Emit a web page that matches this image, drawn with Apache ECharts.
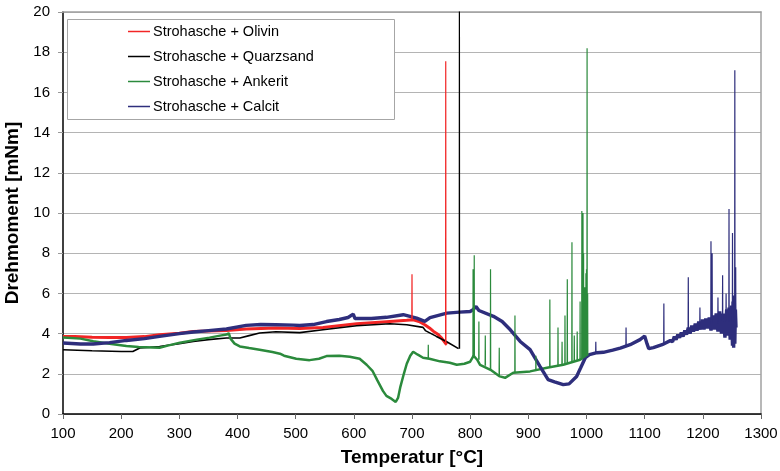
<!DOCTYPE html>
<html>
<head>
<meta charset="utf-8">
<script src="https://cdn.jsdelivr.net/npm/echarts@6/dist/echarts.min.js"></script>
<style>
    html, body { margin: 0; padding: 0; background: #fff; }
    #chart { width: 780px; height: 471px; }
</style>
</head>
<body>
<div id="chart"></div>
<script>
var seriesNames = ['Strohasche + Olivin', 'Strohasche + Quarzsand', 'Strohasche + Ankerit', 'Strohasche + Calcit'];

// Olivin (rot)
var olivinT = [100, 120, 150, 180, 209, 240, 266, 300, 324, 350, 381, 415, 466, 507, 547, 605, 650, 691, 702, 712, 722, 730, 737, 745, 751, 758, 760];
var olivinV = [3.86, 3.85, 3.82, 3.81, 3.81, 3.85, 3.94, 4.02, 4.11, 4.13, 4.16, 4.23, 4.28, 4.25, 4.3, 4.49, 4.58, 4.66, 4.69, 4.6, 4.44, 4.28, 4.11, 3.95, 3.78, 3.5, 3.45];
var olivinSpikes = [[700, 4.66, 6.95], [758, 3.5, 17.55]];

// Quarzsand (schwarz)
var quarzT = [100, 150, 200, 220, 232, 250, 266, 300, 324, 350, 381, 404, 420, 438, 466, 507, 547, 605, 662, 691, 719, 722, 723, 742, 759, 780];
var quarzV = [3.2, 3.15, 3.11, 3.11, 3.28, 3.32, 3.36, 3.5, 3.61, 3.7, 3.78, 3.78, 3.9, 4.03, 4.09, 4.05, 4.19, 4.39, 4.49, 4.44, 4.31, 4.3, 4.15, 3.86, 3.61, 3.25];
var quarzSpikes = [[781.5, 3.25, 22]];

// Ankerit (gruen)
var ankeritT = [100, 130, 152, 180, 209, 230, 266, 280, 301, 330, 352, 370, 381, 385, 388, 395, 404, 420, 438, 460, 473, 480, 501, 524, 540, 553, 575, 593, 610, 622, 632, 640, 650, 656, 665, 672, 676, 680, 686, 691, 697, 702, 710, 719, 730, 748, 765, 777, 790, 800, 806, 812, 817, 835, 851, 860, 874, 903, 932, 960, 989, 999, 1003];
var ankeritV = [3.8, 3.75, 3.62, 3.5, 3.38, 3.33, 3.3, 3.4, 3.55, 3.7, 3.8, 3.9, 3.95, 4.02, 3.75, 3.5, 3.36, 3.28, 3.2, 3.08, 3.0, 2.9, 2.75, 2.68, 2.75, 2.88, 2.9, 2.85, 2.75, 2.45, 2.15, 1.7, 1.15, 0.9, 0.75, 0.6, 0.8, 1.35, 2.0, 2.5, 2.9, 3.1, 2.95, 2.8, 2.75, 2.62, 2.55, 2.45, 2.5, 2.6, 2.9, 2.7, 2.45, 2.2, 1.87, 1.8, 2.05, 2.12, 2.3, 2.45, 2.7, 2.87, 2.9];
var ankeritSpikes = [[728, 2.75, 3.45], [805, 2.8, 7.2], [807, 2.9, 7.9], [815, 2.7, 4.6], [826, 2.4, 3.9], [835, 2.2, 7.2],
    [850, 1.9, 3.3], [877, 2.05, 4.9], [913, 2.15, 2.9], [937, 2.3, 5.7], [951, 2.4, 4.3], [958, 2.45, 3.6], [963, 2.5, 4.9],
    [967, 2.5, 6.7], [975, 2.55, 8.55], [979, 2.6, 3.9], [984, 2.65, 4.1], [989, 2.7, 5.6], [992, 2.75, 10.1], [994, 2.75, 10.0],
    [995, 2.8, 8.0], [997, 2.8, 6.3], [998, 2.85, 5.5], [999, 2.85, 7.0], [1000, 2.9, 7.2], [1001, 2.9, 18.2], [1002, 2.9, 6.0]];

// Calcit (blau)
var calcitT = [100, 130, 152, 180, 209, 240, 266, 300, 324, 350, 381, 415, 440, 466, 496, 507, 530, 553, 575, 590, 599, 602, 605, 630, 656, 685, 708, 722, 731, 760, 782, 800, 805, 810, 815, 840, 855, 869, 886, 903, 920, 934, 945, 960, 970, 983, 990, 998, 1005, 1018, 1029, 1045, 1058, 1075, 1092, 1100, 1104, 1107, 1115, 1130, 1144,
    1148, 1151, 1154, 1157, 1160, 1163, 1166, 1169, 1172, 1175, 1178, 1181, 1184, 1187, 1190, 1193, 1196, 1199, 1202, 1205, 1208, 1211, 1214, 1217, 1220, 1223, 1226, 1229, 1232, 1235, 1238, 1241, 1243, 1245, 1247, 1249, 1251, 1252, 1253, 1254, 1255, 1256, 1257];
var calcitV = [3.53, 3.48, 3.48, 3.55, 3.66, 3.75, 3.86, 4.0, 4.08, 4.15, 4.23, 4.41, 4.45, 4.44, 4.42, 4.4, 4.45, 4.6, 4.7, 4.8, 4.97, 4.75, 4.72, 4.75, 4.81, 4.94, 4.77, 4.61, 4.8, 5.02, 5.07, 5.1, 5.19, 5.35, 5.15, 4.86, 4.6, 4.19, 3.61, 3.2, 2.37, 1.71, 1.6, 1.46, 1.5, 1.87, 2.3, 2.8, 2.95, 3.05, 3.07, 3.18, 3.28, 3.45, 3.7, 3.88, 3.5, 3.25, 3.3, 3.45, 3.65,
    3.6, 3.85, 3.7, 3.95, 3.8, 4.05, 3.85, 4.15, 3.95, 4.3, 4.0, 4.4, 4.1, 4.5, 4.15, 4.6, 4.2, 4.7, 4.2, 4.75, 4.25, 4.8, 4.15, 4.9, 4.2, 5.0, 4.1, 5.1, 4.0, 5.0, 3.8, 5.2, 3.9, 5.3, 3.7, 5.4, 3.4, 5.6, 3.3, 5.9, 3.5, 5.2, 4.3];
var calcitSpikes = [[1016, 3.0, 3.6], [1068, 3.35, 4.3], [1133, 3.45, 5.5], [1175, 4.2, 6.8], [1195, 4.4, 5.3], [1214, 4.5, 8.6],
    [1216, 4.5, 8.0], [1226, 4.5, 5.8], [1234, 4.6, 6.9], [1240, 4.6, 6.0], [1245, 4.6, 10.2], [1251, 4.6, 9.0], [1255, 4.7, 17.1], [1256.5, 4.7, 7.3]];

var colors = ['#f22525', '#000000', '#2b8a3c', '#2e2e7c'];
var lineWidths = [3, 1.6, 2.5, 3.4];

function toPairs(xs, ys) {
    var out = [];
    for (var i = 0; i < xs.length; i++) {
        out.push([xs[i], ys[i]]);
    }
    return out;
}

// jeder Ausreisser: [T, Basis, Spitze] -> schmaler Strich, danach Luecke
function spikePairs(list) {
    var out = [];
    for (var i = 0; i < list.length; i++) {
        out.push([list[i][0] - 0.3, list[i][1]]);
        out.push([list[i][0], list[i][2]]);
        out.push([list[i][0] + 0.3, list[i][1]]);
        out.push([list[i][0] + 0.3, '-']);
    }
    return out;
}

function lineSeries(idx, data, width) {
    return {
        name: seriesNames[idx],
        type: 'line',
        data: data,
        symbol: 'none',
        connectNulls: false,
        clip: true,
        lineStyle: { color: colors[idx], width: width },
        itemStyle: { color: colors[idx] },
        emphasis: { disabled: true }
    };
}

var chart = echarts.init(document.getElementById('chart'));
var textFont = '"Liberation Sans", Arial, sans-serif';
var borderLine = { show: true, onZero: false, lineStyle: { color: '#a0a0a0', width: 1.5 } };

var option = {
    animation: false,
    backgroundColor: '#fff',
    textStyle: { fontFamily: textFont },
    grid: {
        left: 63, right: 19, top: 12, bottom: 57,
        outerBoundsMode: 'none',
        containLabel: false
    },
    graphic: [{
        type: 'rect',
        z: 3,
        shape: { x: 67.5, y: 19.5, width: 327, height: 100 },
        style: { fill: '#fff', stroke: '#a6a6a6', lineWidth: 1 }
    }],
    legend: {
        data: seriesNames,
        orient: 'vertical',
        left: 128,
        top: 24,
        padding: 0,
        icon: 'rect',
        itemGap: 10,
        itemWidth: 22,
        itemHeight: 1.5,
        z: 5,
        selectedMode: false,
        textStyle: { fontFamily: textFont, fontSize: 14.5, color: '#000', padding: [0, 0, 0, -2] }
    },
    xAxis: [{
        type: 'value',
        min: 100,
        max: 1300,
        interval: 100,
        name: 'Temperatur [°C]',
        nameLocation: 'middle',
        nameGap: 34,
        nameTextStyle: { fontFamily: textFont, fontSize: 19, fontWeight: 'bold', color: '#000' },
        axisLine: { show: true, onZero: false, lineStyle: { color: '#000', width: 1.5 } },
        axisTick: { show: true, length: 5, lineStyle: { color: '#666' } },
        axisLabel: {
            fontFamily: textFont, fontSize: 15, color: '#000', margin: 12,
            formatter: function (v) { return String(v); }
        },
        splitLine: { show: false }
    }, {
        type: 'value',
        position: 'top',
        min: 100,
        max: 1300,
        interval: 100,
        axisLine: borderLine,
        axisTick: { show: false },
        axisLabel: { show: false },
        splitLine: { show: false }
    }],
    yAxis: [{
        type: 'value',
        min: 0,
        max: 20,
        interval: 2,
        name: 'Drehmoment [mNm]',
        nameLocation: 'middle',
        nameGap: 38,
        nameTextStyle: { fontFamily: textFont, fontSize: 19, fontWeight: 'bold', color: '#000' },
        axisLine: { show: true, onZero: false, lineStyle: { color: '#000', width: 1.5 } },
        axisTick: { show: true, length: 5, lineStyle: { color: '#999' } },
        axisLabel: { fontFamily: textFont, fontSize: 15, color: '#000', margin: 13 },
        splitLine: { show: true, lineStyle: { color: '#b4b4b4', width: 1 } }
    }, {
        type: 'value',
        position: 'right',
        min: 0,
        max: 20,
        interval: 2,
        axisLine: borderLine,
        axisTick: { show: false },
        axisLabel: { show: false },
        splitLine: { show: false }
    }],
    series: [
        lineSeries(0, toPairs(olivinT, olivinV), lineWidths[0]),
        lineSeries(1, toPairs(quarzT, quarzV), lineWidths[1]),
        lineSeries(2, toPairs(ankeritT, ankeritV), lineWidths[2]),
        lineSeries(3, toPairs(calcitT, calcitV), lineWidths[3]),
        lineSeries(0, spikePairs(olivinSpikes), 1.2),
        lineSeries(2, spikePairs(ankeritSpikes), 1.2),
        lineSeries(3, spikePairs(calcitSpikes), 1.2),
        lineSeries(1, spikePairs(quarzSpikes), 1.2)
    ]
};
chart.setOption(option);
</script>
</body>
</html>
